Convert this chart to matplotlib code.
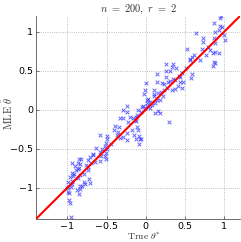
import matplotlib
matplotlib.use('Agg')
import matplotlib.pyplot as plt

# MLE estimates vs true parameters
true_theta = [
    0.957, 0.940, 0.868, 0.949, 0.970, 0.932, 0.885, 0.991, 0.645, 0.726,
    0.872, 1.004, 0.722, 0.885, 0.786, 0.714, 0.821, 0.885, 0.850, 0.927,
    0.769, 0.611, 0.594, 0.568, 0.868, 0.885, 0.855, 0.692, 0.564, 0.509,
    0.457, 0.585, 0.577, 0.526, 0.385, 0.350, 0.252, 0.308, 0.329, 0.252,
    0.137, 0.141, 0.201, 0.256, 0.308, 0.286, 0.342, 0.372, 0.423, 0.436,
    0.436, 0.479, 0.466, 0.372, 0.406, 0.329, 0.269, 0.226, 0.226, 0.197,
    0.214, 0.179, 0.141, 0.103, 0.107, 0.107, -0.004, -0.009, -0.021, 0.009,
    0.030, 0.051, 0.073, 0.051, 0.009, -0.013, -0.034, -0.051, -0.098, -0.111,
    -0.120, -0.124, -0.111, -0.094, -0.085, -0.085, -0.073, -0.128, -0.056, -0.150,
    -0.171, -0.158, -0.141, -0.226, -0.244, -0.291, -0.329, -0.286, -0.239, -0.201,
    0.299, 0.184, 0.115, 0.158, -0.239, -0.239, -0.295, -0.325, -0.355, -0.368,
    -0.406, -0.389, -0.342, -0.449, -0.496, -0.500, -0.509, -0.517, -0.500, -0.513,
    -0.526, -0.509, -0.560, -0.590, -0.585, -0.577, -0.632, -0.667, -0.675, -0.705,
    -0.739, -0.645, -0.739, -0.731, -0.701, -0.825, -0.850, -0.842, -0.855, -0.761,
    -0.782, -0.838, -0.868, -0.906, -0.889, -0.910, -0.932, -0.970, -0.940, -0.863,
    -0.833, -0.812, -0.838, -0.876, -0.850, -0.714, -0.774, -0.944, -0.940, -0.944,
    -0.953, -0.859, -0.996, -0.987, -1.000, -0.974, -0.979, -0.962, -0.953, -0.791,
    -0.722, -0.996, -0.585, -0.064, 0.021, 0.115, 0.158,
]
mle_theta = [
    1.203, 1.178, 1.110, 1.068, 1.059, 1.025, 0.992, 0.962, 0.979, 0.924,
    0.924, 0.898, 0.873, 0.856, 0.805, 0.771, 0.763, 0.733, 0.720, 0.720,
    0.703, 0.699, 0.678, 0.648, 0.614, 0.602, 0.559, 0.631, 0.636, 0.530,
    0.475, 0.458, 0.403, 0.780, 0.534, 0.581, 0.589, 0.500, 0.551, 0.500,
    0.453, 0.360, 0.339, 0.415, 0.373, 0.360, 0.390, 0.381, 0.432, 0.415,
    0.352, 0.352, 0.280, 0.271, 0.305, 0.254, 0.275, 0.326, 0.254, 0.229,
    0.169, 0.127, 0.127, 0.169, 0.254, 0.199, 0.339, 0.246, 0.195, 0.127,
    0.136, 0.093, 0.064, 0.021, 0.042, 0.021, 0.051, 0.034, 0.000, -0.064,
    -0.093, -0.148, -0.225, -0.254, -0.331, -0.445, -0.381, -0.373, -0.381, -0.322,
    -0.263, -0.110, -0.127, -0.161, 0.042, 0.000, -0.106, -0.102, -0.034, -0.097,
    -0.161, -0.042, -0.042, -0.021, -0.297, -0.390, -0.347, -0.360, -0.288, -0.326,
    -0.258, -0.212, -0.220, -0.436, -0.339, -0.373, -0.424, -0.466, -0.508, -0.551,
    -0.593, -0.627, -0.500, -0.542, -0.661, -0.593, -0.496, -0.564, -0.585, -0.602,
    -0.644, -0.674, -0.737, -0.771, -0.678, -0.627, -0.631, -0.691, -0.742, -0.712,
    -0.818, -0.839, -0.763, -0.720, -0.775, -0.826, -0.847, -0.864, -0.915, -0.877,
    -0.975, -0.983, -1.017, -1.030, -1.081, -0.941, -0.949, -0.678, -0.805, -0.958,
    -0.987, -0.678, -0.924, -0.992, -1.008, -1.072, -1.157, -1.195, -1.377, -0.928,
    -0.890, -1.051, -0.330, -0.034, 0.085, 0.085, 0.212,
]

LIMITS = [-1.4, 1.2]
TICKS = [-1, -0.5, 0, 0.5, 1]
TICK_LABELS = ['\u22121', '\u22120.5', '0', '0.5', '1']

plt.rcParams['mathtext.fontset'] = 'cm'

fig = plt.figure(figsize=(2.41, 2.42), dpi=100)
ax = fig.add_axes([0.149, 0.095, 0.847, 0.839])

ax.scatter(true_theta, mle_theta, marker='x', s=7, linewidths=0.7,
           color='#3333ff', alpha=0.75, zorder=2)
ax.plot(LIMITS, LIMITS, color='#ff0000', linewidth=1.5, zorder=3)

ax.set_xlim(LIMITS)
ax.set_ylim(LIMITS)
ax.set_xticks(TICKS)
ax.set_yticks(TICKS)
ax.set_xticklabels(TICK_LABELS)
ax.set_yticklabels(TICK_LABELS)
ax.tick_params(direction='in', length=2.5, width=0.5, labelsize=6.8,
               colors='#444444', labelcolor='black', pad=1.8)
ax.grid(True, linestyle=':', linewidth=0.6, color='#aaaaaa')
for side in ['top', 'right']:
    ax.spines[side].set_visible(False)
for side in ['left', 'bottom']:
    ax.spines[side].set_color('#555555')
    ax.spines[side].set_linewidth(0.6)

ax.set_title(r'$n\ =\ 200,\ r\ =\ 2$', fontsize=7.5, pad=3, color='#333333')
ax.set_xlabel(r'$\mathrm{True}\ \theta^{*}$', fontsize=7, color='#333333')
ax.set_ylabel(r'$\mathrm{MLE}\ \hat{\theta}$', fontsize=7.5, color='#333333')
ax.xaxis.set_label_coords(0.53, -0.088)
ax.yaxis.set_label_coords(-0.137, 0.52)
ax.xaxis.label.set_va('center')
ax.yaxis.label.set_va('center')

fig.savefig('out.png', dpi=100)
